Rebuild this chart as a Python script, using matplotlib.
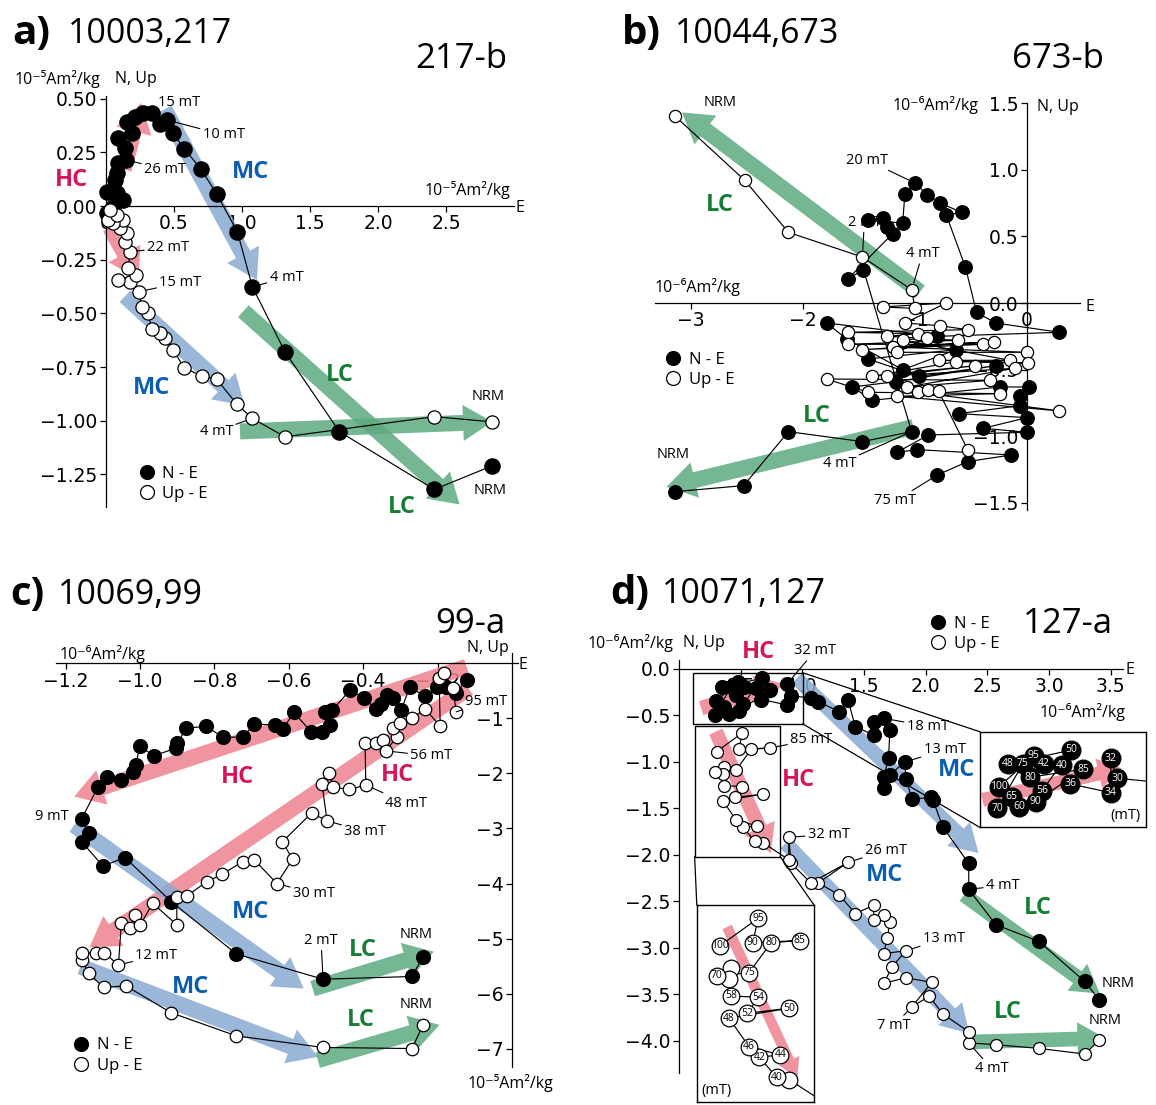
import matplotlib
matplotlib.use("Agg")
import matplotlib.pyplot as plt
from matplotlib.lines import Line2D
from matplotlib.patches import ConnectionPatch, Rectangle
from matplotlib.ticker import FixedLocator, FuncFormatter

W, H = 1156, 1105
SANS = ["Open Sans", "DejaVu Sans"]

TXT = {"HC": "#D7145A", "MC": "#0A5DB0", "LC": "#167D34"}
FILL = {"HC": "#EE8290", "MC": "#89AAD2", "LC": "#5DAA80"}

# ---------------- a) 10003,217  (10^-5 Am2/kg) ----------------
A_NE_X = [2.836, 2.414, 1.716, 1.316, 1.076, 0.966, 0.814, 0.699, 0.576, 0.490, 0.446, 0.397, 0.336, 0.275,
          0.213, 0.152, 0.189, 0.091, 0.140, 0.147, 0.091, 0.078, 0.066, 0.005, 0.078, 0.127, 0.054, 0.005]
A_NE_Y = [-1.211, -1.320, -1.051, -0.679, -0.376, -0.120, 0.056, 0.171, 0.267, 0.341, 0.401, 0.382, 0.432, 0.435,
          0.416, 0.393, 0.339, 0.315, 0.269, 0.214, 0.199, 0.152, 0.121, 0.067, 0.059, 0.028, -0.003, -0.034]
A_UE_X = [2.836, 2.414, 1.316, 1.076, 0.961, 0.814, 0.704, 0.574, 0.495, 0.434, 0.397, 0.336, 0.311, 0.262,
          0.245, 0.176, 0.091, 0.221, 0.164, 0.176, 0.140, 0.152, 0.103, 0.127, 0.054, 0.017, 0.078, 0.029]
A_UE_Y = [-1.005, -0.981, -1.075, -0.989, -0.922, -0.807, -0.792, -0.753, -0.671, -0.616, -0.593, -0.574, -0.500,
          -0.472, -0.399, -0.355, -0.345, -0.321, -0.290, -0.213, -0.166, -0.127, -0.104, -0.065, -0.081, -0.065,
          -0.042, -0.019]
A_ARROWS = [("HC", (0.13, 0.17), (0.26, 0.48)), ("HC", (0.03, -0.10), (0.24, -0.34)),
            ("MC", (0.43, 0.45), (1.11, -0.345)), ("MC", (0.14, -0.42), (1.02, -0.93)),
            ("LC", (1.01, -0.49), (2.60, -1.39)), ("LC", (0.985, -1.05), (2.84, -1.005))]
A_NAMES = [("HC", -0.252, 0.121), ("MC", 1.059, 0.160), ("MC", 0.336, -0.849),
           ("LC", 1.721, -0.787), ("LC", 2.174, -1.400)]
A_TAGS = [("15 mT", "ne", 13, 36, 10, True), ("10 mT", "ne", 10, 57, -15, True), ("26 mT", "ne", 19, 39, -9, True),
          ("22 mT", "ue", 19, 38, 4, True), ("15 mT", "ue", 14, 41, 9, True), ("4 mT", "ne", 4, 34, 9, True),
          ("4 mT", "ue", 3, -36, -13, True), ("NRM", "ue", 0, -4, 25, False), ("NRM", "ne", 0, -2, -24, False)]

# ---------------- b) 10044,673  (10^-6 Am2/kg) ----------------
B_NE_X = [-3.14, -2.53, -2.13, -1.47, -1.03, -1.46, -1.60, -1.20, -1.25, -1.29, -1.42, -1.11, -1.09, -1.00, -0.89,
          -0.78, -0.58, -0.72, -0.55, -0.45, -0.28, 0.29, -0.80, -1.79, -1.61, -1.11, -0.63, -1.42, -0.96, -0.28,
          -1.17, -1.56, -1.38, -0.24, 0.02, -0.06, -0.06, -0.61, 0.00, -0.39, 0.00, -0.88, -1.16, -0.98, -0.14,
          -0.53, -0.80]
B_NE_Y = [-1.415, -1.37, -0.965, -1.04, -0.965, 0.25, 0.18, 0.52, 0.57, 0.64, 0.62, 0.60, 0.82, 0.90, 0.81, 0.75,
          0.68, 0.66, 0.27, -0.07, -0.15, -0.22, -0.25, -0.15, -0.27, -0.50, -0.35, -0.42, -0.55, -0.47, -0.59,
          -0.63, -0.73, -0.63, -0.63, -0.70, -0.77, -0.83, -0.86, -0.94, -0.97, -0.99, -1.12, -1.10, -1.14,
          -1.19, -1.29]
B_UE_X = [-3.14, -2.52, -2.13, -1.47, -1.03, -1.00, -1.29, -0.72, -1.09, -0.78, -0.53, -1.60, -0.97, -1.25, -0.62,
          -1.60, -0.39, -1.47, -0.29, -1.20, 0.00, -1.16, -0.89, -1.11, -0.15, -0.79, 0.01, -0.63, -1.38, -0.46,
          -1.25, -0.11, -1.07, -0.33, -1.79, -1.42, -0.24, -1.16, 0.29, -0.97, -0.88, -0.79, -0.53]
B_UE_Y = [1.40, 0.92, 0.53, 0.345, 0.10, -0.04, -0.03, 0.00, -0.15, -0.17, -0.20, -0.22, -0.23, -0.25, -0.28,
          -0.31, -0.31, -0.35, -0.29, -0.33, -0.37, -0.37, -0.26, -0.28, -0.43, -0.43, -0.45, -0.44, -0.55, -0.47,
          -0.55, -0.49, -0.63, -0.58, -0.57, -0.67, -0.68, -0.70, -0.81, -0.67, -0.65, -0.66, -1.10]
B_ARROWS = [("LC", (-0.955, 0.083), (-3.08, 1.43)), ("LC", (-1.015, -0.93), (-3.22, -1.38))]
B_NAMES = [("LC", -2.74, 0.735), ("LC", -1.88, -0.85)]
B_TAGS = [("NRM", "ue", 0, 45, 14, False), ("NRM", "ne", 0, -2, 37, False), ("20 mT", "ne", 13, -48, 23, True),
          ("2 mT", "ue", 3, 2, 35, True), ("4 mT", "ue", 4, 11, 36, True), ("4 mT", "ne", 4, -72, -32, True),
          ("75 mT", "ne", 46, -42, -26, True)]

# ---------------- c) 10069,99  (E: 10^-6, N/Up: 10^-5 Am2/kg) ----------------
C_NE_X = [-0.239, -0.269, -0.508, -0.741, -0.916, -1.040, -1.100, -1.157, -1.138, -1.157, -1.113, -1.089, -1.052,
          -1.020, -1.011, -1.001, -0.963, -0.904, -0.900, -0.876, -0.823, -0.777, -0.724, -0.693, -0.636, -0.615,
          -0.587, -0.540, -0.511, -0.488, -0.502, -0.483, -0.435, -0.398, -0.366, -0.353, -0.335, -0.321, -0.298,
          -0.275, -0.233, -0.201, -0.178, -0.150, -0.122]
C_NE_Y = [-5.33, -5.69, -5.74, -5.28, -4.33, -3.53, -3.68, -3.24, -3.08, -2.83, -2.24, -2.06, -2.12, -1.97, -1.85,
          -1.50, -1.68, -1.54, -1.45, -1.18, -1.14, -1.34, -1.34, -1.10, -1.12, -1.19, -0.89, -1.24, -1.24, -1.12,
          -0.89, -0.85, -0.48, -0.63, -0.83, -0.74, -0.57, -0.63, -0.85, -0.43, -0.60, -0.43, -0.42, -0.54, -0.30]
C_UE_X = [-0.239, -0.269, -0.508, -0.741, -0.916, -1.038, -1.098, -1.138, -1.156, -1.156, -1.119, -1.096, -1.058,
          -1.050, -1.026, -1.013, -0.999, -0.966, -0.901, -0.901, -0.875, -0.821, -0.779, -0.723, -0.693, -0.632,
          -0.590, -0.617, -0.539, -0.497, -0.511, -0.492, -0.480, -0.437, -0.393, -0.395, -0.365, -0.347, -0.338,
          -0.310, -0.321, -0.300, -0.270, -0.233, -0.193, -0.196, -0.182, -0.159, -0.150]
C_UE_Y = [-6.57, -7.00, -6.98, -6.77, -6.35, -5.86, -5.89, -5.63, -5.39, -5.27, -5.26, -5.26, -5.48, -4.71, -4.81,
          -4.57, -4.75, -4.36, -4.75, -4.25, -4.23, -3.97, -3.83, -3.60, -3.57, -4.00, -3.56, -3.24, -2.72, -2.86,
          -2.19, -1.99, -2.25, -2.29, -2.21, -1.45, -1.45, -1.39, -1.59, -1.33, -1.18, -1.08, -1.00, -0.83, -1.14,
          -0.27, -0.18, -0.45, -0.88]
C_ARROWS = [("HC", (-0.122, -0.06), (-1.177, -2.42)), ("HC", (-0.117, -0.45), (-1.136, -5.16)),
            ("MC", (-1.177, -2.94), (-0.560, -5.91)), ("MC", (-1.160, -5.51), (-0.522, -7.15)),
            ("LC", (-0.536, -5.91), (-0.210, -5.24)), ("LC", (-0.522, -7.21), (-0.195, -6.57))]
C_NAMES = [("HC", -0.738, -2.06), ("HC", -0.307, -2.03), ("MC", -0.704, -4.51), ("MC", -0.863, -5.88),
           ("LC", -0.402, -5.21), ("LC", -0.407, -6.48)]
C_TAGS = [("9 mT", "ne", 9, -30, 3, False), ("2 mT", "ne", 2, -2, 39, True), ("NRM", "ne", 0, -7, 22, False),
          ("12 mT", "ue", 12, 38, 9, True), ("30 mT", "ue", 25, 37, -10, True), ("38 mT", "ue", 29, 38, -11, True),
          ("48 mT", "ue", 34, 40, -18, True), ("56 mT", "ue", 38, 45, -5, True), ("95 mT", "ue", 48, 30, 10, True),
          ("NRM", "ue", 0, -7, 20, False)]

# ---------------- d) 10071,127  (10^-6 Am2/kg) ----------------
D_NE_X = [3.41, 3.29, 2.92, 2.57, 2.35, 2.35, 2.14, 2.06, 2.04, 1.89, 1.84, 1.83, 1.71, 1.66, 1.66, 1.70, 1.71,
          1.66, 1.58, 1.58, 1.43, 1.37, 1.30, 1.13, 1.07]
D_NE_Y = [-3.56, -3.36, -2.93, -2.75, -2.37, -2.09, -1.70, -1.41, -1.38, -1.40, -1.18, -1.00, -1.14, -1.28, -1.16,
          -0.96, -0.66, -0.53, -0.57, -0.71, -0.62, -0.33, -0.46, -0.35, -0.31]
# high-field steps of the N-E projection (shown enlarged in the inset)
D_NE_HI_STEP = ["30", "32", "34", "36", "40", "42", "48", "50", "56", "60", "65", "70", "75", "80", "85", "90",
                "95", "100"]
D_NE_HI_X = [0.911, 0.879, 0.879, 0.669, 0.626, 0.531, 0.347, 0.675, 0.523, 0.404, 0.366, 0.290, 0.423, 0.461,
             0.736, 0.489, 0.480, 0.299]
D_NE_HI_Y = [-0.290, -0.156, -0.387, -0.328, -0.201, -0.194, -0.194, -0.100, -0.374, -0.481, -0.414, -0.492,
             -0.194, -0.283, -0.230, -0.447, -0.140, -0.347]
D_UE_X = [3.41, 3.29, 2.92, 2.57, 2.35, 2.35, 2.14, 2.03, 1.89, 2.05, 1.84, 1.66, 1.73, 1.84, 1.66, 1.69, 1.71,
          1.66, 1.58, 1.58, 1.43, 1.30, 1.13, 1.37, 1.07, 0.91, 0.89, 0.89]
D_UE_Y = [-3.99, -4.14, -4.08, -4.04, -4.02, -3.90, -3.71, -3.52, -3.63, -3.37, -3.32, -3.38, -3.20, -3.03, -3.06,
          -2.89, -2.72, -2.65, -2.70, -2.54, -2.63, -2.43, -2.30, -2.08, -2.30, -2.09, -1.81, -2.05]
D_UE_HI_STEP = ["", "40", "42", "44", "46", "48", "50", "52", "54", "58", "", "", "70", "75", "80", "85", "90",
                "95", "100"]
D_UE_HI_X = [0.684, 0.614, 0.521, 0.634, 0.465, 0.356, 0.681, 0.456, 0.515, 0.366, 0.366, 0.356, 0.290, 0.465,
             0.585, 0.740, 0.485, 0.515, 0.306]
D_UE_HI_Y = [-1.870, -1.850, -1.704, -1.687, -1.626, -1.418, -1.345, -1.381, -1.264, -1.255, -1.052, -1.132,
             -1.108, -1.084, -0.864, -0.849, -0.864, -0.685, -0.888]
D_ARROWS = [("HC", (0.18, -0.42), (0.85, -0.16)), ("HC", (0.299, -0.674), (0.746, -1.98)),
            ("MC", (0.955, -0.10), (2.43, -1.98)), ("MC", (0.865, -1.874), (2.355, -3.92)),
            ("LC", (2.311, -2.43), (3.413, -3.49)), ("LC", (2.385, -4.01), (3.457, -3.97))]
D_NAMES = [("HC", 0.643, 0.186), ("HC", 0.970, -1.19), ("MC", 2.251, -1.086), ("MC", 1.670, -2.215),
           ("LC", 2.907, -2.573), ("LC", 2.668, -3.685)]
D_TAGS = [("32 mT", "ne", 26, 28, 33, True), ("18 mT", "ne", 17, 44, -8, True), ("13 mT", "ne", 11, 40, 12, True),
          ("4 mT", "ne", 4, 34, 4, True), ("NRM", "ne", 0, 19, 17, False), ("85 mT", "ue", 43, 41, 8, True),
          ("32 mT", "ue", 26, 40, 3, True), ("26 mT", "ue", 23, 38, 12, True), ("13 mT", "ue", 13, 38, 12, True),
          ("7 mT", "ue", 8, -18, -19, True), ("4 mT", "ue", 4, 23, -26, True), ("NRM", "ue", 0, 6, 20, False)]
D_BOX_NE = (0.116, -0.59, 1.003, -0.04)
D_BOX_UE = (0.127, -2.018, 0.821, -0.613)
INS_NE_LIM = ((0.20, 1.06), (-0.62, 0.023))
INS_UE_LIM = ((0.182, 0.817), (-2.03, -0.588))
INS_NE_ARROW = ((0.214, -0.436), (0.936, -0.223))
INS_UE_ARROW = ((0.346, -0.749), (0.727, -1.858))


fig = plt.figure(figsize=(W / 100, H / 100), dpi=100)


def fx(px):
    return px / W


def fy(py):
    return 1 - py / H


def ftext(px, py, s, size, weight="normal", ha="left", va="center"):
    fig.text(fx(px), fy(py), s, fontsize=size, family=SANS, weight=weight, ha=ha, va=va)


def num(fmt, zero=None):
    def f(v, pos):
        if zero is not None and abs(v) < 1e-9:
            return zero
        return fmt.format(v).replace("-", "\u2212")
    return FuncFormatter(f)


def zaxes(box, xlim, ylim, xticks, yticks, xfmt, yfmt, xspan, yspan):
    x0, y0, x1, y1 = box
    ax = fig.add_axes([fx(x0), fy(y1), (x1 - x0) / W, (y1 - y0) / H])
    ax.set_xlim(*xlim)
    ax.set_ylim(*ylim)
    ax.patch.set_visible(False)
    ax.spines["top"].set_visible(False)
    ax.spines["right"].set_visible(False)
    ax.spines["left"].set_position(("data", 0))
    ax.spines["bottom"].set_position(("data", 0))
    ax.spines["bottom"].set_bounds(*xspan)
    ax.spines["left"].set_bounds(*yspan)
    for s in ("left", "bottom"):
        ax.spines[s].set_linewidth(0.9)
    ax.xaxis.set_major_locator(FixedLocator(xticks))
    ax.yaxis.set_major_locator(FixedLocator(yticks))
    ax.xaxis.set_major_formatter(xfmt)
    ax.yaxis.set_major_formatter(yfmt)
    ax.tick_params(labelsize=13.5, length=4, width=0.9, pad=2)
    return ax


def band(ax, kind, start, end, tail=11.5, head_w=26, head_l=21):
    ax.annotate("", xy=end, xytext=start, xycoords="data", textcoords="data", annotation_clip=False,
                arrowprops=dict(arrowstyle=f"simple,head_length={head_l},head_width={head_w},tail_width={tail}",
                                mutation_scale=1, fc=FILL[kind], ec="none", alpha=0.85, shrinkA=0, shrinkB=0),
                zorder=1.6)


def draw_series(ax, ne, ue, ms_ne, ms_ue):
    ax.plot(*ne, color="k", lw=0.85, zorder=2.2)
    ax.plot(*ue, color="k", lw=0.85, zorder=2.2)
    ax.plot(*ne, ls="", marker="o", ms=ms_ne, mfc="k", mec="k", mew=0.9, zorder=3)
    ax.plot(*ue, ls="", marker="o", ms=ms_ue, mfc="w", mec="k", mew=0.9, zorder=3.1)


def tags(ax, items, ne, ue, low=()):
    for s, which, i, dx, dy, leader in items:
        xs, ys = ne if which == "ne" else ue
        z = 1.8 if (s, which) in low else 5
        props = dict(arrowstyle="-", color="k", lw=0.8, shrinkA=0, shrinkB=5) if leader else None
        ax.annotate(s, xy=(xs[i], ys[i]), xytext=(dx, dy), textcoords="offset pixels", ha="center",
                    va="center", fontsize=10.5, family=SANS, zorder=z, arrowprops=props)


def names(ax, items):
    for s, x, y in items:
        ax.text(x, y, s, color=TXT[s], fontsize=17, weight="bold", family=SANS, ha="center", va="center",
                zorder=4)


def key(ax, mx, my, ms):
    handles = [Line2D([], [], ls="", marker="o", ms=ms, mfc=c, mec="k", mew=0.9) for c in ("k", "w")]
    ax.legend(handles, ["N - E", "Up - E"], loc="center left", bbox_to_anchor=(fx(mx - 6.7), fy(my)),
              bbox_transform=fig.transFigure, frameon=False, borderpad=0, borderaxespad=0, handlelength=0.8,
              handletextpad=0.55, labelspacing=0.25, prop={"family": SANS, "size": 12})


# ---- panel a
axa = zaxes((99.2, 96.5, 514, 506.6), (-0.05, 3.0), (-1.40, 0.51),
            [0, 0.5, 1.0, 1.5, 2.0, 2.5], [0.5, 0.25, 0, -0.25, -0.5, -0.75, -1.0, -1.25],
            num("{:.1f}", zero="0"), num("{:.2f}"), (0, 3.0), (-1.40, 0.51))
for k, s, e in A_ARROWS:
    band(axa, k, s, e)
draw_series(axa, (A_NE_X, A_NE_Y), (A_UE_X, A_UE_Y), 11, 9.5)
tags(axa, A_TAGS, (A_NE_X, A_NE_Y), (A_UE_X, A_UE_Y))
names(axa, A_NAMES)
key(axa, 146.7, 483.7, 10)

# ---- panel b
axb = zaxes((655.2, 100.4, 1079.6, 509.6), (-3.32, 0.47), (-1.55, 1.52),
            [-3, -2, -1, 0], [-1.5, -1.0, -0.5, 0, 0.5, 1.0, 1.5],
            num("{:.0f}"), num("{:.1f}"), (-3.32, 0.47), (-1.55, 1.5))
for k, s, e in B_ARROWS:
    band(axb, k, s, e)
draw_series(axb, (B_NE_X, B_NE_Y), (B_UE_X, B_UE_Y), 9.8, 8.8)
tags(axb, B_TAGS, (B_NE_X, B_NE_Y), (B_UE_X, B_UE_Y), low=[("2 mT", "ue")])
names(axb, B_NAMES)
key(axb, 673.3, 370, 10)

# ---- panel c
axc = zaxes((56.3, 653, 517.6, 1066.7), (-1.225, 0.015), (-7.33, 0.19),
            [-1.2, -1.0, -0.8, -0.6, -0.4, -0.2], [-7, -6, -5, -4, -3, -2, -1],
            num("{:.1f}"), num("{:.0f}"), (-1.225, 0.015), (-7.33, 0.19))
for k, s, e in C_ARROWS:
    band(axc, k, s, e)
draw_series(axc, (C_NE_X, C_NE_Y), (C_UE_X, C_UE_Y), 10, 9)
tags(axc, C_TAGS, (C_NE_X, C_NE_Y), (C_UE_X, C_UE_Y))
names(axc, C_NAMES)
key(axc, 81.4, 1055.5, 10)

# ---- panel d
axd = zaxes((676.5, 659.7, 1122.9, 1072.6), (-0.02, 3.6), (-4.34, 0.1),
            [0.5, 1.0, 1.5, 2.0, 2.5, 3.0, 3.5], [0, -0.5, -1.0, -1.5, -2.0, -2.5, -3.0, -3.5, -4.0],
            num("{:.1f}"), num("{:.1f}"), (0, 3.6), (-4.34, 0.1))
d_ne = (D_NE_X + D_NE_HI_X, D_NE_Y + D_NE_HI_Y)
d_ue = (D_UE_X + D_UE_HI_X, D_UE_Y + D_UE_HI_Y)
for k, s, e in D_ARROWS:
    band(axd, k, s, e, tail=10.5, head_w=24, head_l=20)
draw_series(axd, d_ne, d_ue, 10, 8.6)
tags(axd, D_TAGS, d_ne, d_ue)
names(axd, D_NAMES)
key(axd, 938.3, 633.8, 10)
for bx in (D_BOX_NE, D_BOX_UE):
    axd.add_patch(Rectangle((bx[0], bx[1]), bx[2] - bx[0], bx[3] - bx[1], fill=False, ec="k", lw=1.0,
                            zorder=2.1))


def inset(box, lim, series, hi, steps_hi, filled, arrow, ms, tail, head_w, head_l, mt_pos):
    x0, y0, x1, y1 = box
    ins = fig.add_axes([fx(x0), fy(y1), (x1 - x0) / W, (y1 - y0) / H])
    ins.set_xlim(*lim[0])
    ins.set_ylim(*lim[1])
    ins.set_xticks([])
    ins.set_yticks([])
    for sp in ins.spines.values():
        sp.set_linewidth(1.0)
    band(ins, "HC", arrow[0], arrow[1], tail=tail, head_w=head_w, head_l=head_l)
    ins.plot(*series, color="k", lw=0.85, zorder=2.2)
    ins.plot(*hi, ls="", marker="o", ms=ms, mfc="k" if filled else "w", mec="k", mew=0.9, zorder=3)
    for x, y, s in zip(hi[0], hi[1], steps_hi):
        if s:
            ins.text(x, y, s, ha="center", va="center", fontsize=7.5, family=SANS,
                     color="w" if filled else "k", zorder=5)
    ins.text(mt_pos[0], mt_pos[1], "(mT)", transform=ins.transAxes, fontsize=10.5, family=SANS,
             ha=mt_pos[2], va="bottom")
    return ins


ins_ne = inset((979.7, 731.7, 1145.8, 827.3), INS_NE_LIM, d_ne, (D_NE_HI_X, D_NE_HI_Y), D_NE_HI_STEP, True,
               INS_NE_ARROW, 13.5, 10, 22, 17, (0.97, 0.04, "right"))
ins_ue = inset((696.8, 905, 814, 1101.7), INS_UE_LIM, d_ue, (D_UE_HI_X, D_UE_HI_Y), D_UE_HI_STEP, False,
               INS_UE_ARROW, 12, 7.5, 16, 14, (0.04, 0.02, "left"))

for xyA, axB, xyB in [((D_BOX_NE[2], D_BOX_NE[3]), ins_ne, (0, 1)), ((D_BOX_NE[2], D_BOX_NE[1]), ins_ne, (0, 0)),
                      ((D_BOX_UE[0], D_BOX_UE[1]), ins_ue, (0, 1)), ((D_BOX_UE[2], D_BOX_UE[1]), ins_ue, (1, 1))]:
    con = ConnectionPatch(xyA=xyA, coordsA=axd.transData, xyB=xyB, coordsB=axB.transAxes, color="k", lw=0.9)
    fig.add_artist(con)

# ---- titles and axis annotations
U5 = "10\u207b\u2075Am\u00b2/kg"
U6 = "10\u207b\u2076Am\u00b2/kg"
for lab, lx, ident, ix, base, sample, sx, sbase in [("a)", 12, "10003,217", 68, 43, "217-b", 415, 68),
                                                   ("b)", 622, "10044,673", 675, 43, "673-b", 1012, 68),
                                                   ("c)", 10, "10069,99", 58, 604, "99-a", 435, 633),
                                                   ("d)", 610, "10071,127", 662, 603, "127-a", 1023, 633)]:
    ftext(lx, base + 1, lab, 29, weight="bold", va="baseline")
    ftext(ix, base, ident, 24.5, va="baseline")
    ftext(sx, sbase, sample, 25, va="baseline")

ftext(15, 79, U5, 11.5)
ftext(115, 79, "N, Up", 11.5)
ftext(425, 190, U5, 11.5)
ftext(520, 208, "E", 11.5, ha="center")
ftext(893, 105, U6, 11.5)
ftext(1037, 106.7, "N, Up", 11.5)
ftext(655, 286.7, U6, 11.5)
ftext(1090, 306.7, "E", 11.5, ha="center")
ftext(60, 654, U6, 11.5)
ftext(466.7, 648.3, "N, Up", 11.5)
ftext(523.3, 665, "E", 11.5, ha="center")
ftext(468, 1082.7, U5, 11.5)
ftext(587.3, 643.3, U6, 11.5)
ftext(682.9, 643.3, "N, Up", 11.5)
ftext(1130, 670, "E", 11.5, ha="center")
ftext(1040, 711.7, U6, 11.5)

fig.savefig("out.png", dpi=100)
